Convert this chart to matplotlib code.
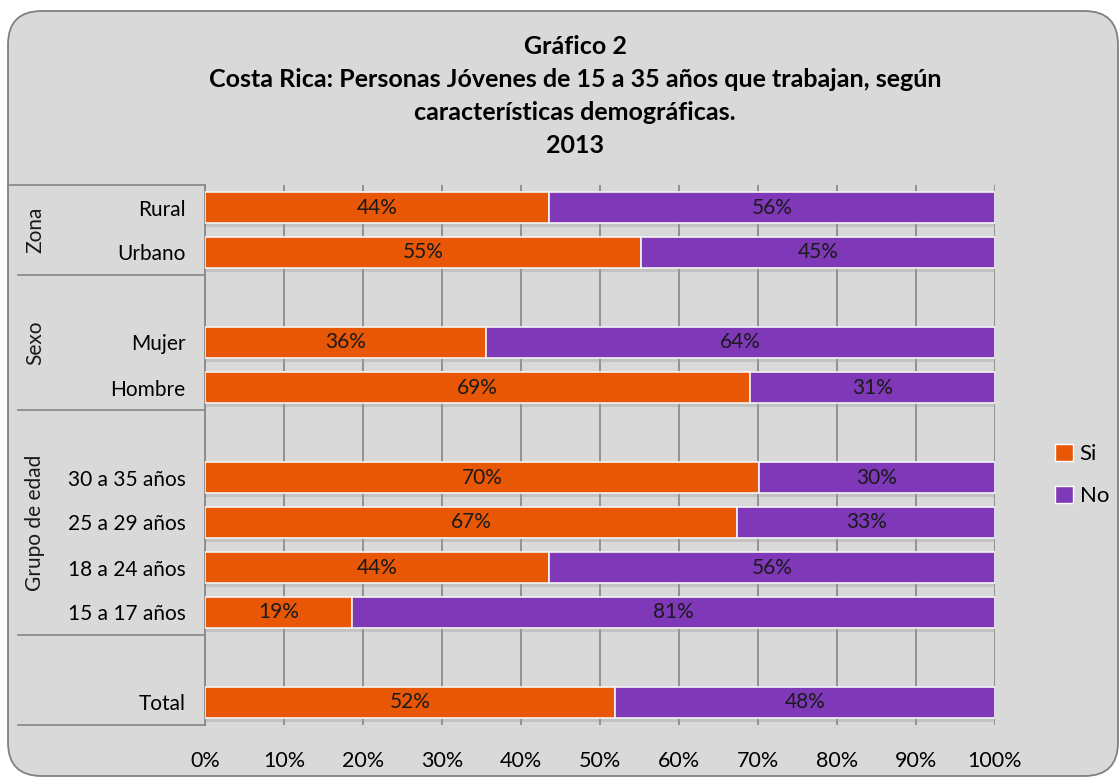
import numpy as np
import matplotlib
import matplotlib.pyplot as plt
from matplotlib.patches import FancyBboxPatch
from matplotlib.lines import Line2D

matplotlib.use('Agg')

plt.rcParams['font.family'] = ['Lato', 'DejaVu Sans']

# data (share who work, %); No = 100 - Si
groups = ["Zona", "Sexo", "Grupo de edad", ""]
group_rows = [["Rural", "Urbano"],
              ["Mujer", "Hombre"],
              ["30 a 35 años", "25 a 29 años", "18 a 24 años", "15 a 17 años"],
              ["Total"]]
si_vals = [[43.6, 55.2],
           [35.6, 69.0],
           [70.1, 67.4, 43.6, 18.6],
           [51.9]]
xticks = [0, 10, 20, 30, 40, 50, 60, 70, 80, 90, 100]

title = ("Gráfico 2\nCosta Rica: Personas Jóvenes de 15 a 35 años que trabajan, según\n"
         "características demográficas.\n2013")

c_si = '#E85706'
c_no = '#7F38B8'
bg = '#D9D9D9'

W, H = 1120, 777
fig = plt.figure(figsize=(W / 100, H / 100), dpi=100)
fig.patch.set_facecolor('white')

frame = FancyBboxPatch((8 / W, 1 / H), (1118 - 8) / W, (766 - 1) / H,
                       boxstyle="round,pad=0,rounding_size=0.03",
                       transform=fig.transFigure, facecolor=bg, zorder=-5,
                       edgecolor='#808080', linewidth=1.3, mutation_aspect=W / H)
fig.patches.append(frame)

fig.text(575 / W, 1 - 96 / H, title, ha='center', va='center', fontsize=18,
         fontweight='bold', linespacing=1.52, color='#000000')

ax = fig.add_axes([205 / W, 1 - 725 / H, 790 / W, 540 / H])
ax.set_facecolor(bg)

# positions: a blank slot before each group after the first
pos, labels, si, bounds, centers = [], [], [], [], []
p = 0
for gi, rows in enumerate(group_rows):
    start = p - 0.5
    if gi > 0:
        p += 1
    for r, v in zip(rows, si_vals[gi]):
        pos.append(p)
        labels.append(r)
        si.append(v)
        p += 1
    bounds.append(p - 0.5)
    centers.append((start + p - 0.5) / 2)
pos = np.array(pos)
si = np.array(si)
no = 100 - si

h = 0.69
ax.barh(pos, si, height=h, color=c_si, edgecolor='#F4F4F4', linewidth=1.2, zorder=3)
ax.barh(pos, no, left=si, height=h, color=c_no, edgecolor='#F4F4F4', linewidth=1.2, zorder=3)
# soft shadow under bars
ax.barh(pos + 0.08, 100, height=h, color='#9A9A9A', alpha=0.35, linewidth=0, zorder=2)

for y, a, b in zip(pos, si, no):
    ax.text(a / 2, y, '%.0f%%' % a, ha='center', va='center', fontsize=15, color='#1A1A1A', zorder=4)
    ax.text(a + b / 2, y, '%.0f%%' % b, ha='center', va='center', fontsize=15, color='#1A1A1A', zorder=4)

ax.set_xlim(0, 100)
ax.set_ylim(p - 0.5, -0.5)
ax.set_xticks(xticks)
ax.set_xticklabels(['%d%%' % t for t in xticks], fontsize=15.5)
ax.tick_params(axis='x', length=0, pad=19)
ax.set_yticks(pos)
ax.set_yticklabels(labels, fontsize=15)
ax.tick_params(axis='y', length=0, pad=14)
ax.xaxis.grid(True, color='#868686', linewidth=1.2, zorder=0)
ax.set_axisbelow(True)
for s in ['top', 'right', 'bottom']:
    ax.spines[s].set_visible(False)
ax.spines['left'].set_color('#868686')
ax.spines['left'].set_linewidth(1.2)

# category table lines and group labels
tr = ax.get_yaxis_transform()
ax.add_line(Line2D([(8 - 205) / 790, 0], [-0.5, -0.5], transform=tr, color='#868686',
                   linewidth=1.2, clip_on=False))
for b in bounds:
    ax.add_line(Line2D([(18 - 205) / 790, 0], [b, b], transform=tr, color='#868686',
                       linewidth=1.2, clip_on=False))
for g, c in zip(groups, centers):
    if g:
        ax.text((35 - 205) / 790, c, g, transform=tr, rotation=90, ha='center', va='center',
                fontsize=15, color='#1A1A1A')

handles = [plt.Rectangle((0, 0), 1, 1, facecolor=c_si, edgecolor='white', linewidth=1),
           plt.Rectangle((0, 0), 1, 1, facecolor=c_no, edgecolor='white', linewidth=1)]
fig.legend(handles, ['Si', 'No'], loc='center', bbox_to_anchor=(1082 / W, 1 - 475 / H),
           frameon=False, fontsize=16, handlelength=0.8, handleheight=0.8,
           handletextpad=0.3, labelspacing=1.0)

fig.savefig('out.png', dpi=100, facecolor='white')
